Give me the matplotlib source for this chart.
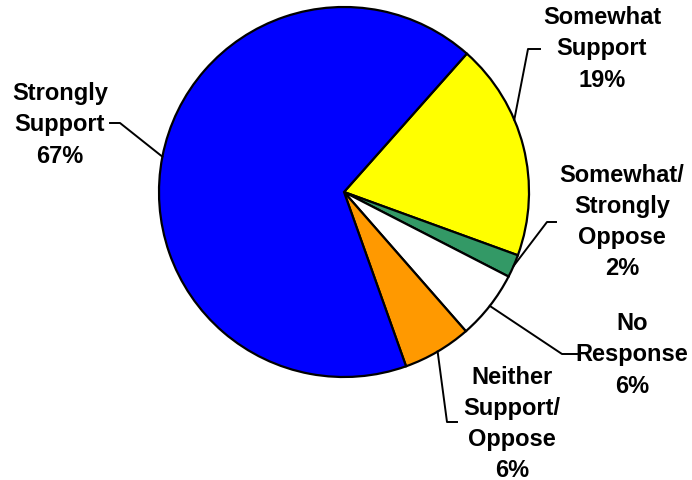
import numpy as np
import matplotlib.pyplot as plt

plt.rcParams['font.family'] = ['Liberation Sans', 'DejaVu Sans']

# slices, clockwise from the top-right edge
labels = ['Somewhat\nSupport', 'Somewhat/\nStrongly\nOppose', 'No\nResponse',
          'Neither\nSupport/\nOppose', 'Strongly\nSupport']
values = [19, 2, 6, 6, 67]
colors = ['#FFFF00', '#339966', '#FFFFFF', '#FF9900', '#0000FF']

W, H = 692, 481
cx, cy, r = 344, H - 193, 185
start = 48.4

# label text centres (pixels from top-left) and leader lines
text_pos = [(602, 49), (622, 222), (632, 355), (512, 424), (60, 125)]
leader_ang = [23.0, -23.6, -38.0, -59.6, 169.0]
leader_knee = [(528, 50), (547, 223), (562, 355), (447, 423), (120, 124)]
leader_end = [(540, 50), (556, 223), (577, 355), (457, 423), (110, 124)]

fig = plt.figure(figsize=(W / 100, H / 100), dpi=100)
ax = fig.add_axes([0, 0, 1, 1])

ax.pie(values, colors=colors, startangle=start, counterclock=False,
       center=(cx, cy), radius=r, frame=True,
       wedgeprops=dict(edgecolor='black', linewidth=1.6))
ax.set_xlim(0, W)
ax.set_ylim(0, H)
ax.set_aspect('equal')
ax.axis('off')

for lab, v, (tx, ty), a, (kx, ky), (ex, ey) in zip(labels, values, text_pos,
                                                      leader_ang, leader_knee, leader_end):
    px = cx + r * np.cos(np.radians(a))
    py = cy + r * np.sin(np.radians(a))
    ax.plot([px, kx, ex], [py, H - ky, H - ey], color='black', lw=1.4)
    ax.text(tx, H - ty, f'{lab}\n{v}%', ha='center', va='center',
            fontsize=17, fontweight='bold', linespacing=1.45)

fig.savefig('out.png', dpi=100)
